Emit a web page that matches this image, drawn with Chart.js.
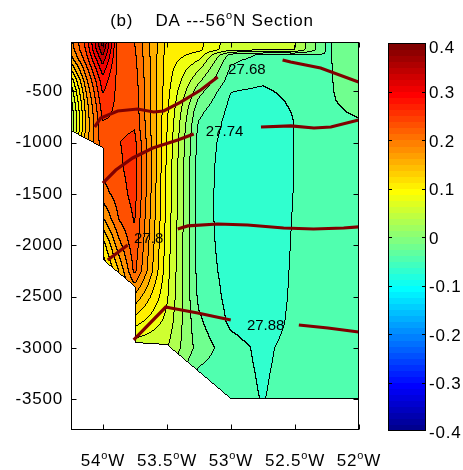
<!DOCTYPE html>
<html><head><meta charset="utf-8">
<script src="https://cdn.jsdelivr.net/npm/chart.js@4/dist/chart.umd.min.js"></script>
<style>html,body{margin:0;padding:0;background:#fff}#wrap{width:463px;height:470px}</style>
</head><body><div id="wrap"><canvas id="c" width="463" height="470"></canvas></div>
<script>
// ---------------- DATA ----------------
const lonStations = [-54.25,-54.125,-54.0,-53.875,-53.75,-53.5,-53.25,-53.0,-52.75,-52.5,-52.25,-52.0];
const depthLevels = [-20,-60,-100,-150,-200,-300,-400,-500,-600,-700,-800,-900,-1000,-1250,-1500,-1750,-2000,-2250,-2500,-2750,-3000,-3250,-3500];
// DA anomaly, one column per station (top to bottom, same order as depthLevels)
const da54W250 = [0.19,0.188,0.183,0.172,0.158,0.12,0.08,0.055,0.04,0.028,0.022,0.03,0.05,0.05,0.05,0.05,0.05,0.05,0.05,0.05,0.05,0.05,0.05];
const da54W125 = [0.26,0.258,0.255,0.248,0.238,0.215,0.195,0.18,0.168,0.162,0.16,0.162,0.17,0.17,0.17,0.17,0.17,0.17,0.17,0.17,0.17,0.17,0.17];
const da54W000 = [0.385,0.378,0.368,0.352,0.336,0.31,0.29,0.278,0.268,0.258,0.249,0.245,0.24,0.232,0.215,0.17,0.11,0.075,0.075,0.075,0.075,0.075,0.075];
const da53W875 = [0.235,0.236,0.237,0.238,0.239,0.24,0.241,0.242,0.243,0.244,0.245,0.246,0.249,0.245,0.237,0.225,0.19,0.15,0.13,0.13,0.13,0.13,0.13];
const da53W750 = [0.224,0.226,0.228,0.23,0.232,0.235,0.238,0.24,0.242,0.244,0.247,0.251,0.258,0.262,0.26,0.252,0.243,0.232,0.17,0.11,0.055,0.05,0.05];
const da53W500 = [0.12,0.12,0.118,0.116,0.115,0.113,0.112,0.11,0.108,0.106,0.104,0.102,0.10,0.097,0.095,0.093,0.09,0.086,0.08,0.068,0.052,0.03,0.02];
const da53W250 = [0.108,0.107,0.105,0.09,0.075,0.05,0.03,0.01,-0.005,-0.018,-0.026,-0.031,-0.034,-0.037,-0.038,-0.038,-0.037,-0.035,-0.03,-0.02,-0.01,-0.03,-0.04];
const da53W000 = [0.06,0.059,0.057,-0.01,-0.02,-0.03,-0.038,-0.049,-0.054,-0.057,-0.059,-0.06,-0.062,-0.063,-0.063,-0.063,-0.062,-0.06,-0.058,-0.055,-0.04,-0.04,-0.04];
const da52W750 = [0.055,0.054,0.053,-0.03,-0.034,-0.04,-0.046,-0.054,-0.061,-0.065,-0.067,-0.069,-0.07,-0.07,-0.07,-0.07,-0.07,-0.069,-0.068,-0.066,-0.056,-0.053,-0.051];
const da52W500 = [0.052,0.051,0.05,-0.028,-0.03,-0.034,-0.038,-0.042,-0.045,-0.048,-0.0495,-0.0495,-0.0495,-0.0495,-0.049,-0.048,-0.047,-0.046,-0.045,-0.043,-0.04,-0.04,-0.04];
const da52W250 = [-0.027,-0.027,-0.027,-0.027,-0.027,-0.027,-0.027,-0.027,-0.028,-0.031,-0.035,-0.038,-0.04,-0.04,-0.04,-0.04,-0.04,-0.04,-0.04,-0.04,-0.04,-0.04,-0.045];
const da52W000 = [-0.014,-0.014,-0.014,-0.015,-0.015,-0.016,-0.017,-0.018,-0.018,-0.021,-0.027,-0.032,-0.036,-0.04,-0.04,-0.04,-0.04,-0.04,-0.04,-0.04,-0.04,-0.04,-0.04];
const daColumns = [da54W250,da54W125,da54W000,da53W875,da53W750,da53W500,da53W250,da53W000,da52W750,da52W500,da52W250,da52W000];
const contourLevels = [-0.075,-0.05,-0.025,0,0.025,0.05,0.075,0.1,0.125,0.15,0.175,0.2,0.225,0.25,0.275,0.3,0.325,0.35,0.375];
// section outline (data region)
const sectionLon   = [-54.25,-52.0,-52.0,-53.0,-53.5,-53.75,-53.75,-54.0,-54.0,-54.25];
const sectionDepth = [-10,-10,-3500,-3500,-2972,-2952,-2407,-2144,-1053,-887];
// isopycnals (sigma) segments
const sig2768aLon = [-54.065,-54.018,-53.885,-53.729,-53.604,-53.526,-53.393,-53.237,-53.104];
const sig2768aDep = [-848,-760,-692,-673,-702,-692,-605,-488,-361];
const sig2768bLon = [-52.597,-52.534,-52.30,-52.003];
const sig2768bDep = [-195,-215,-273,-410];
const sig2774aLon = [-54.001,-53.900,-53.768,-53.611,-53.416,-53.291];
const sig2774aDep = [-1394,-1267,-1150,-1053,-975,-916];
const sig2774bLon = [-52.766,-52.532,-52.352,-52.22,-52.003];
const sig2774bDep = [-848,-838,-858,-848,-780];
const sig2780aLon = [-53.963,-53.807];
const sig2780aDep = [-2144,-1998];
const sig2780bLon = [-53.416,-53.338,-53.104,-52.87,-52.589,-52.355,-52.12,-52.003];
const sig2780bDep = [-1842,-1812,-1793,-1803,-1832,-1842,-1832,-1822];
const sig2788aLon = [-53.76,-53.51,-53.471,-53.26,-53.002];
const sig2788aDep = [-2923,-2602,-2611,-2660,-2728];
const sig2788bLon = [-52.47,-52.243,-52.003];
const sig2788bDep = [-2777,-2806,-2845];
const sigLabelText = ['27.68','27.74','27.8','27.88'];
const sigLabelLon  = [-52.876,-53.05,-53.643,-52.729];
const sigLabelDep  = [-293,-897,-1939,-2787];
// axes
const xTickValues = [-54,-53.5,-53,-52.5,-52];
const xTickLabels = ['54','53.5','53','52.5','52'];
const yTickValues = [-3500,-3000,-2500,-2000,-1500,-1000,-500];
const cbRange = [-0.4,0.4];
const cbTickValues = [0.4,0.3,0.2,0.1,0,-0.1,-0.2,-0.3,-0.4];
const titleParts = ['(b)    DA ---56','o','N Section'];

// ---------------- helpers ----------------
const FONT = "'Liberation Sans','DejaVu Sans',Arial,sans-serif";
function jetRow(i){
  const u = k => (k<1||k>47)?0:(k<=16?k/16:(k<=31?1:(48-k)/16));
  return [u(i-24),u(i-8),u(i+8)].map(c=>Math.round(c*255));
}
function jetColorFor(v){
  const t = (v-cbRange[0])/(cbRange[1]-cbRange[0]);
  const row = Math.min(64,Math.max(1,Math.floor(t*64+1e-9)+1));
  return jetRow(row);
}
function fieldAt(lon,dep){
  let i=0; while(i<lonStations.length-2 && lon>lonStations[i+1]) i++;
  let tx=(lon-lonStations[i])/(lonStations[i+1]-lonStations[i]); tx=Math.max(0,Math.min(1,tx));
  let j=0; while(j<depthLevels.length-2 && dep<depthLevels[j+1]) j++;
  let ty=(dep-depthLevels[j])/(depthLevels[j+1]-depthLevels[j]); ty=Math.max(0,Math.min(1,ty));
  const a=daColumns[i][j], b=daColumns[i+1][j], c=daColumns[i][j+1], d=daColumns[i+1][j+1];
  return a*(1-tx)*(1-ty)+b*tx*(1-ty)+c*(1-tx)*ty+d*tx*ty;
}
function bandOf(v){ let k=-1; for(let m=0;m<contourLevels.length;m++){ if(v>=contourLevels[m]) k=m; } return k; }
function inPoly(poly,px,py){
  let ins=false;
  for(let i=0,j=poly.length-1;i<poly.length;j=i++){
    const [xi,yi]=poly[i],[xj,yj]=poly[j];
    if(((yi>py)!==(yj>py)) && (px < (xj-xi)*(py-yi)/(yj-yi)+xi)) ins=!ins;
  }
  return ins;
}
function drawSupText(ctx,parts,x,y,size,align){
  const big = size+'px '+FONT, small = Math.round(size*0.66)+'px '+FONT;
  const widths = parts.map((p,i)=>{ctx.font = (i%2===1)?small:big; return ctx.measureText(p).width;});
  const total = widths.reduce((a,b)=>a+b,0);
  let cx = align==='center'? x-total/2 : x;
  parts.forEach((p,i)=>{
    const sup = i%2===1;
    ctx.font = sup?small:big;
    ctx.fillText(p,cx,sup?y-size*0.42:y);
    cx+=widths[i];
  });
}

// ---------------- plugins ----------------
const contourPlugin = {
  id:'contourFill',
  beforeDraw(chart){ chart.ctx.letterSpacing='0.8px'; },
  beforeDatasetsDraw(chart){
    const {ctx,chartArea:a,scales:{x,y}} = chart;
    const x0=Math.round(a.left), y0=Math.round(a.top);
    const W=Math.round(a.right)-x0, H=Math.round(a.bottom)-y0;
    const poly = sectionLon.map((lo,i)=>[x.getPixelForValue(lo), y.getPixelForValue(sectionDepth[i])]);
    const band = new Int16Array(W*H).fill(-2);
    for(let j=0;j<H;j++){
      const py=y0+j+0.5, dep=y.getValueForPixel(py);
      for(let i=0;i<W;i++){
        const px=x0+i+0.5;
        if(!inPoly(poly,px,py)) continue;
        band[j*W+i]=bandOf(fieldAt(x.getValueForPixel(px),dep));
      }
    }
    const colors = contourLevels.map(l=>jetColorFor(l));
    const below = jetColorFor(contourLevels[0]-0.025);
    const img = ctx.createImageData(W,H);
    for(let j=0;j<H;j++) for(let i=0;i<W;i++){
      const k=j*W+i, b=band[k], o=k*4;
      let c;
      if(b===-2){ c=[255,255,255]; }
      else {
        const r = i<W-1?band[k+1]:b, d = j<H-1?band[k+W]:b;
        const l = i>0?band[k-1]:b, u = j>0?band[k-W]:b;
        const edge = (r!==b) || (d!==b) || l===-2 || u===-2;
        c = edge?[0,0,0]:(b<0?below:colors[b]);
      }
      img.data[o]=c[0]; img.data[o+1]=c[1]; img.data[o+2]=c[2]; img.data[o+3]=255;
    }
    ctx.putImageData(img,x0,y0);
  },
  afterDraw(chart){
    const {ctx,chartArea:a,scales:{x,y}} = chart;
    ctx.save();
    ctx.letterSpacing='0px';
    ctx.fillStyle='#000'; ctx.textAlign='center'; ctx.textBaseline='middle';
    ctx.font='15px '+FONT;
    sigLabelText.forEach((t,i)=>ctx.fillText(t,x.getPixelForValue(sigLabelLon[i]),y.getPixelForValue(sigLabelDep[i])));
    ctx.strokeStyle='#000'; ctx.lineWidth=1;
    const L=Math.round(a.left)+0.5, R=Math.round(a.right)-0.5, T=Math.round(a.top)+0.5, B=Math.round(a.bottom)-0.5;
    ctx.strokeRect(L,T,R-L,B-T);
    ctx.beginPath();
    xTickValues.forEach(v=>{const px=Math.round(x.getPixelForValue(v))+0.5; ctx.moveTo(px,B); ctx.lineTo(px,B-5); ctx.moveTo(px,T); ctx.lineTo(px,T+5);});
    yTickValues.forEach(v=>{const py=Math.round(y.getPixelForValue(v))+0.5; ctx.moveTo(L,py); ctx.lineTo(L+5,py); ctx.moveTo(R,py); ctx.lineTo(R-5,py);});
    ctx.stroke();
    // x tick labels with superscript degree "o"
    ctx.letterSpacing='0.8px';
    ctx.textAlign='left'; ctx.textBaseline='alphabetic';
    xTickValues.forEach((v,i)=>drawSupText(ctx,[xTickLabels[i],'o','W'],x.getPixelForValue(v),466,17,'center'));
    // colorbar
    const cbL=388, cbR=426, cbT=Math.round(a.top)+1, cbB=431;
    const cbY = v => cbB-(v-cbRange[0])/(cbRange[1]-cbRange[0])*(cbB-cbT);
    for(let r=1;r<=64;r++){
      const v0=cbRange[0]+(r-1)*(cbRange[1]-cbRange[0])/64, v1=cbRange[0]+r*(cbRange[1]-cbRange[0])/64;
      const c=jetRow(r); ctx.fillStyle='rgb('+c.join(',')+')';
      const yt=cbY(v1), yb=cbY(v0);
      ctx.fillRect(cbL,Math.floor(yt),cbR-cbL,Math.ceil(yb)-Math.floor(yt));
    }
    ctx.fillStyle='#000';
    ctx.strokeRect(cbL+0.5,cbT+0.5,cbR-cbL-1,cbB-cbT-1);
    ctx.beginPath();
    cbTickValues.forEach(v=>{ if(v===cbRange[0]||v===cbRange[1]) return; const py=Math.round(cbY(v))+0.5; ctx.moveTo(cbL,py); ctx.lineTo(cbL+4,py); ctx.moveTo(cbR,py); ctx.lineTo(cbR-4,py);});
    ctx.stroke();
    ctx.textAlign='left'; ctx.textBaseline='middle'; ctx.font='17px '+FONT;
    cbTickValues.forEach(v=>{ let py=cbY(v)+2; py=Math.max(py,48); py=Math.min(py,434); ctx.fillText(v===0?'0':String(v),429,py);});
    ctx.textAlign='left'; ctx.textBaseline='alphabetic';
    drawSupText(ctx,titleParts,212,26,17,'center');
    ctx.restore();
  }
};

function seg(lons,deps){ return lons.map((v,i)=>({x:v,y:deps[i]})); }
const isoStyle = {showLine:true,borderColor:'#800000',backgroundColor:'#800000',borderWidth:3.2,pointRadius:0,fill:false,tension:0};
const datasets = [
  [sig2768aLon,sig2768aDep],[sig2768bLon,sig2768bDep],[sig2774aLon,sig2774aDep],[sig2774bLon,sig2774bDep],
  [sig2780aLon,sig2780aDep],[sig2780bLon,sig2780bDep],[sig2788aLon,sig2788aDep],[sig2788bLon,sig2788bDep]
].map(([lo,de])=>Object.assign({data:seg(lo,de)},isoStyle));

new Chart(document.getElementById('c'),{
  type:'scatter',
  data:{datasets},
  plugins:[contourPlugin],
  options:{
    responsive:false, animation:false, devicePixelRatio:1,
    layout:{padding:{left:0,right:104,top:42,bottom:0}},
    plugins:{legend:{display:false},tooltip:{enabled:false},title:{display:false}},
    scales:{
      x:{type:'linear',min:-54.25,max:-52,
         afterBuildTicks:s=>{s.ticks=xTickValues.map(v=>({value:v}));},
         afterFit:s=>{s.height=40;},
         grid:{display:false,drawTicks:false},border:{display:false},
         ticks:{display:false}},
      y:{type:'linear',min:-3800,max:-20,
         afterBuildTicks:s=>{s.ticks=yTickValues.map(v=>({value:v}));},
         afterFit:s=>{s.width=71;},
         grid:{display:false,drawTicks:false},border:{display:false},
         ticks:{autoSkip:false,padding:8,color:'#000',font:{size:17,family:FONT},
                callback:(v)=>String(v)}}
    }
  }
});
</script></body></html>
